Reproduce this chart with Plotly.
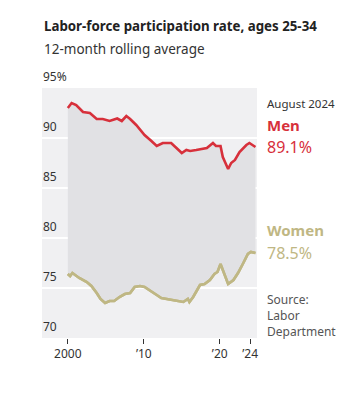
import plotly.graph_objects as go

men_x = [2000.0, 2000.5, 2001.1, 2002.0, 2002.9, 2003.8, 2004.6, 2005.5, 2006.5, 2007.1,
         2007.7, 2008.2, 2009.0, 2010.1, 2011.0, 2011.7, 2012.5, 2013.6, 2014.3, 2015.0,
         2015.6, 2016.1, 2016.9, 2017.8, 2018.3, 2019.1, 2019.5, 2020.1, 2020.4, 2021.1,
         2021.5, 2022.0, 2022.6, 2023.5, 2023.9, 2024.3, 2024.7]
men_y = [93.0, 93.5, 93.3, 92.6, 92.5, 91.9, 91.9, 91.7, 91.95, 91.7,
         92.2, 91.9, 91.3, 90.3, 89.7, 89.2, 89.5, 89.5, 89.0, 88.5,
         88.8, 88.7, 88.8, 88.9, 89.0, 89.5, 89.2, 89.2, 88.1, 86.9,
         87.5, 87.8, 88.6, 89.3, 89.5, 89.3, 89.1]

women_x = [2000.0, 2000.3, 2000.6, 2001.5, 2002.5, 2003.1, 2003.8, 2004.3, 2004.9, 2005.5,
           2006.1, 2006.8, 2007.5, 2008.2, 2008.8, 2009.5, 2010.1, 2011.0, 2011.7, 2012.3,
           2013.0, 2013.9, 2014.5, 2015.2, 2015.8, 2016.0, 2016.5, 2016.9, 2017.4, 2018.0,
           2018.7, 2019.3, 2019.7, 2020.1, 2020.4, 2021.1, 2021.8, 2022.4, 2023.1, 2023.7,
           2024.1, 2024.7]
women_y = [76.4, 76.2, 76.5, 76.0, 75.6, 75.2, 74.5, 73.9, 73.5, 73.7,
           73.7, 74.1, 74.4, 74.5, 75.1, 75.2, 75.1, 74.6, 74.3, 74.0,
           73.9, 73.8, 73.7, 73.6, 73.9, 73.6, 74.1, 74.6, 75.3, 75.4,
           75.8, 76.4, 76.6, 77.4, 76.8, 75.4, 75.8, 76.5, 77.5, 78.4,
           78.6, 78.5]

y_ticks = [70, 75, 80, 85, 90, 95]
y_tick_labels = ["70", "75", "80", "85", "90", "95%"]
x_ticks = [2000, 2010, 2020, 2024]
x_tick_labels = ["2000", "\u201910", "\u201920", "\u201924"]

RED = "#d7303b"
OLIVE = "#bfb784"
FONT = "Noto Sans"

fig = go.Figure()
fig.add_trace(go.Scatter(x=women_x, y=women_y, mode="lines",
                         line=dict(color=OLIVE, width=2.6), hoverinfo="skip"))
fig.add_trace(go.Scatter(x=men_x, y=men_y, mode="lines", fill="tonexty",
                         fillcolor="#e1e1e4",
                         line=dict(color=RED, width=2.6), hoverinfo="skip"))
fig.add_trace(go.Scatter(x=women_x, y=women_y, mode="lines",
                         line=dict(color=OLIVE, width=2.6), hoverinfo="skip"))

ann = []
for v, t in zip(y_ticks, y_tick_labels):
    ann.append(dict(x=0, xref="paper", y=v, yref="y", text=t, showarrow=False,
                    xanchor="left", yanchor="bottom", xshift=-1, yshift=1,
                    font=dict(family=FONT, size=12, color="#333")))


def side(text, ypaper, size, color):
    return dict(x=1, xref="paper", y=ypaper, yref="paper", text=text, showarrow=False,
                xanchor="left", yanchor="middle", xshift=8,
                font=dict(family=FONT, size=size, color=color))


ann += [
    dict(x=0.0, xref="paper", y=1, yref="paper", text="<b>Labor-force participation rate, ages 25-34</b>",
         showarrow=False, xanchor="left", yanchor="bottom", yshift=51,
         font=dict(family=FONT, size=13.3, color="#222")),
    dict(x=0.0, xref="paper", y=1, yref="paper", text="12-month rolling average",
         showarrow=False, xanchor="left", yanchor="bottom", yshift=28,
         font=dict(family=FONT, size=13.5, color="#333")),
    side("August 2024", 0.936, 11.5, "#333"),
    side("<b>Men</b>", 0.852, 15, RED),
    side("89.1%", 0.765, 16, RED),
    side("<b>Women</b>", 0.432, 15, OLIVE),
    side("78.5%", 0.34, 16, OLIVE),
    side("Source:", 0.156, 12, "#555"),
    side("Labor", 0.089, 12, "#555"),
    side("Department", 0.025, 12, "#555"),
]

fig.update_layout(
    width=358, height=401,
    margin=dict(l=34, r=109, t=80, b=71),
    paper_bgcolor="white", plot_bgcolor="#f0f0f2",
    showlegend=False,
    annotations=ann,
    xaxis=dict(range=[1996.6, 2024.9], tickvals=x_ticks, ticktext=x_tick_labels,
               showgrid=False, zeroline=False, ticks="outside", ticklen=5, tickwidth=1,
               tickcolor="#333", tickfont=dict(family=FONT, size=12, color="#333"),
               fixedrange=True),
    yaxis=dict(range=[70, 95], tickvals=y_ticks, showticklabels=False,
               showgrid=True, gridcolor="white", gridwidth=2, zeroline=False,
               fixedrange=True),
)

fig.write_html("out.html")
